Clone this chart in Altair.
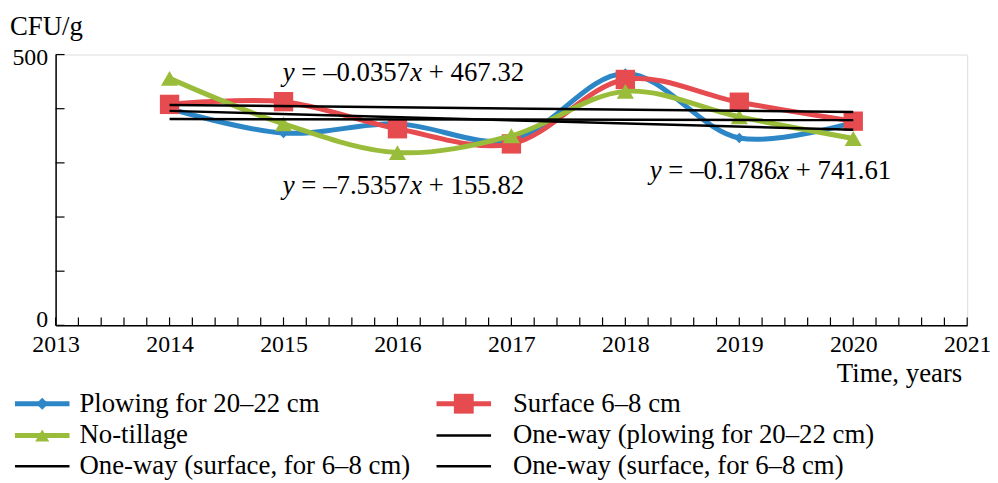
import altair as alt
import pandas as pd

# ---------------- data ----------------
years = [2014, 2015, 2016, 2017, 2018, 2019, 2020]
plowing = [400, 355, 372, 342, 465, 346, 375]
surface = [408, 413, 363, 335, 454, 412, 377]
no_till = [456, 372, 319, 350, 432, 385, 345]

trend_years = [2014, 2020]
trend_a = [407, 394]
trend_b = [396, 361]
trend_c = [381, 379]

series_names = ["Plowing for 20–22 cm", "Surface 6–8 cm", "No-tillage"]
series_colors = ["#2d87c7", "#e54b4f", "#9abc3b"]
series_shapes = ["diamond", "square", "triangle-up"]
series_sizes = [110, 380, 300]

x_label_years = [2013, 2014, 2015, 2016, 2017, 2018, 2019, 2020, 2021]
y_tick_vals = [0, 100, 200, 300, 400, 500]
y_label_vals = [0, 500]

equations = ["y = –0.0357x + 467.32", "y = –7.5357x + 155.82", "y = –0.1786x + 741.61"]

legend_labels = ["Plowing for 20–22 cm", "Surface 6–8 cm", "No-tillage",
                 "One-way (plowing for 20–22 cm)", "One-way (surface, for 6–8 cm)",
                 "One-way (surface, for 6–8 cm)"]

# ---------------- layout ----------------
W, H = 919, 273
FONT = "Liberation Serif"
FS_TICK = 24
FS = 27
dummy = pd.DataFrame({"a": [0]})

xscale = alt.Scale(domain=[2013, 2021], nice=False, zero=False)
yscale = alt.Scale(domain=[0, 500], nice=False)

X_AX = alt.Axis(values=x_label_years, format="d", ticks=False, grid=False,
                domainColor="black", domainWidth=1.5, labelFontSize=FS_TICK,
                labelFont=FONT, labelColor="black", labelPadding=7,
                labelFlush=False, title=None)
Y_AX = alt.Axis(values=y_label_vals, ticks=False, grid=False,
                domainColor="black", domainWidth=1.5, labelFontSize=FS_TICK,
                labelFont=FONT, labelColor="black", labelPadding=8, title=None,
                labelOffset={"condition": {"test": "datum.value == 0", "value": -6}, "value": 3})


def xenc(field):
    return alt.X(field, scale=xscale, axis=X_AX, title=None)


def yenc(field):
    return alt.Y(field, scale=yscale, axis=Y_AX, title=None)


layers = []

# inward ticks
minor = [round(2013 + i * 0.2, 1) for i in range(41)]
layers.append(alt.Chart(pd.DataFrame({"year": minor})).mark_rule(color="black", strokeWidth=1.2).encode(
    x=xenc("year:Q"), y=alt.value(H), y2=alt.value(H - 8)))
layers.append(alt.Chart(pd.DataFrame({"value": y_tick_vals})).mark_rule(color="black", strokeWidth=1.2).encode(
    y=yenc("value:Q"), x=alt.value(0), x2=alt.value(9)))

# series
vals = [plowing, surface, no_till]
for name, col, shp, sz, v in zip(series_names, series_colors, series_shapes, series_sizes, vals):
    d = pd.DataFrame({"year": years, "value": v})
    layers.append(alt.Chart(d).mark_line(interpolate="catmull-rom", strokeWidth=5, color=col).encode(
        x=xenc("year:Q"), y=yenc("value:Q")))
    layers.append(alt.Chart(d).mark_point(shape=shp, filled=True, size=sz, color=col, opacity=1).encode(
        x=xenc("year:Q"), y=yenc("value:Q")))

# trend lines
for tv in [trend_a, trend_b, trend_c]:
    d = pd.DataFrame({"year": trend_years, "value": tv})
    layers.append(alt.Chart(d).mark_line(color="black", strokeWidth=2.5).encode(
        x=xenc("year:Q"), y=yenc("value:Q")))

# ---------------- text helpers ----------------
REG = {" ": 250, "=": 564, "+": 564, "–": 500, ".": 250}
ITW = {"x": 444, "y": 444}


def text_layer(txt, px, py, align="left", italic=False, size=FS):
    kw = dict(text=txt, align=align, baseline="middle", font=FONT, fontSize=size, color="black")
    if italic:
        kw["fontStyle"] = "italic"
    return alt.Chart(dummy).mark_text(**kw).encode(x=alt.value(px), y=alt.value(py))


def width_of(s, italic, size):
    return sum((ITW.get(c, 500) if italic else REG.get(c, 500)) for c in s) / 1000 * size


def equation_layers(eq, px, py, size=FS):
    pieces = []
    cur = ""
    for ch in eq:
        if ch in "xy":
            if cur:
                pieces.append((cur, False))
                cur = ""
            pieces.append((ch, True))
        else:
            cur += ch
    if cur:
        pieces.append((cur, False))
    out = []
    x = px
    for s, it in pieces:
        lead = len(s) - len(s.lstrip(" "))
        trail = len(s) - len(s.rstrip(" "))
        core = s.strip(" ")
        x += lead * 0.25 * size
        out.append(text_layer(core, x, py, italic=it, size=size))
        x += width_of(core, it, size) + trail * 0.25 * size
    return out


eq_pos = [(229, 19), (229, 133), (599, 117)]
for eq, (px, py) in zip(equations, eq_pos):
    layers += equation_layers(eq, px, py)

layers.append(text_layer("CFU/g", -46, -28))
layers.append(text_layer("Time, years", 914, 322, align="right"))

# ---------------- legend ----------------
leg_sym_x = [(-41, 14), (384, 439)]
leg_text_x = [24, 461]
leg_rows = [352, 384, 415]
leg_style = [
    (series_colors[0], 5, "diamond", 150),
    (series_colors[1], 5, "square", 400),
    (series_colors[2], 5, "triangle-up", 200),
    ("black", 2.5, None, 0),
    ("black", 2.5, None, 0),
    ("black", 2.5, None, 0),
]
for i, lab in enumerate(legend_labels):
    col_i = i % 2
    row_i = i // 2
    x0, x1 = leg_sym_x[col_i]
    yy = leg_rows[row_i]
    c, sw, shp, sz = leg_style[i]
    layers.append(alt.Chart(dummy).mark_rule(color=c, strokeWidth=sw).encode(
        x=alt.value(x0), x2=alt.value(x1), y=alt.value(yy)))
    if shp:
        layers.append(alt.Chart(dummy).mark_point(shape=shp, filled=True, size=sz, color=c, opacity=1).encode(
            x=alt.value((x0 + x1) / 2), y=alt.value(yy)))
    layers.append(text_layer(lab, leg_text_x[col_i], yy))

chart = alt.layer(*layers).properties(
    width=W, height=H,
    padding={"left": 48, "top": 45, "right": 23, "bottom": 157},
    autosize=alt.AutoSizeParams(type="none"),
).configure_view(stroke=None).configure(background="white")

chart.save("out.html", embed_options={"renderer": "svg", "actions": False})
